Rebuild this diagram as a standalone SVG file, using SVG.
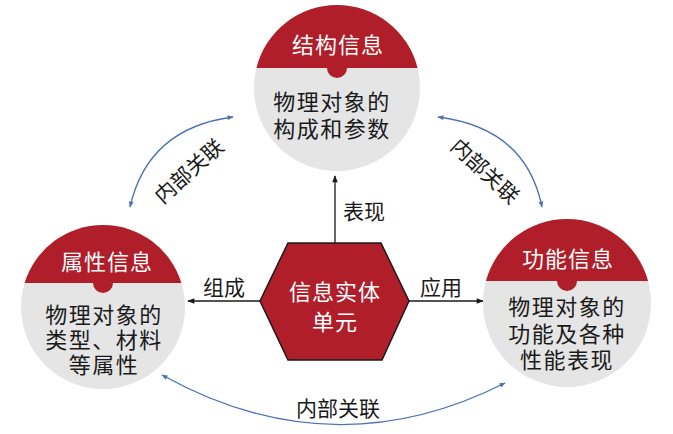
<svg xmlns="http://www.w3.org/2000/svg" width="673" height="434" viewBox="0 0 673 434">
<style>
.bg{fill:#E5E5E5}
.red{fill:#B01E2A}
.t{font-family:"Noto Sans CJK SC","Noto Sans",sans-serif;font-size:22px;text-anchor:middle;dominant-baseline:central}
.w{fill:#FFFFFF;letter-spacing:1px}
.k{fill:#1A1A1A;letter-spacing:1.5px}
.lbl{font-family:"Noto Sans CJK SC","Noto Sans",sans-serif;font-size:21px;fill:#1A1A1A;dominant-baseline:central}
.ar{stroke:#1A1A1A;stroke-width:1.3;fill:none}
.bl{stroke:#4A72B4;stroke-width:1.3;fill:none}
</style>
<defs>
<marker id="ak" viewBox="0 0 10 10" refX="9" refY="5" markerWidth="9" markerHeight="7" markerUnits="userSpaceOnUse" orient="auto">
<path d="M0,1 L10,5 L0,9 Z" fill="#1A1A1A"/>
</marker>
<marker id="ab" viewBox="0 0 10 10" refX="9" refY="5" markerWidth="9" markerHeight="6" markerUnits="userSpaceOnUse" orient="auto-start-reverse">
<path d="M0,1 L10,5 L0,9 Z" fill="#4A72B4"/>
</marker>
</defs>

<g id="connectors">
<line class="ar" x1="335" y1="243" x2="335" y2="176" marker-end="url(#ak)"/>
<line class="ar" x1="260" y1="301" x2="188" y2="301" marker-end="url(#ak)"/>
<line class="ar" x1="409" y1="301" x2="483" y2="301" marker-end="url(#ak)"/>
<path class="bl" d="M130,207 Q148,128 233,117" marker-start="url(#ab)" marker-end="url(#ab)"/>
<path class="bl" d="M438,117 Q526,128 542,207" marker-start="url(#ab)" marker-end="url(#ab)"/>
<path class="bl" d="M162,375 Q333,470 505,383" marker-start="url(#ab)" marker-end="url(#ab)"/>
<text class="lbl" x="343" y="210">表现</text>
<text class="lbl" x="203" y="286">组成</text>
<text class="lbl" x="420" y="286">应用</text>
<text class="lbl" x="338" y="407" text-anchor="middle">内部关联</text>
<text class="lbl" x="188" y="170" text-anchor="middle" transform="rotate(-42 188 170)">内部关联</text>
<text class="lbl" x="486" y="170" text-anchor="middle" transform="rotate(43 486 170)">内部关联</text>
</g>

<g id="node-structure">
<circle class="bg" cx="337" cy="88" r="83"/>
<path class="red" d="M256.45,68 A83,83 0 0 1 417.55,68 Z"/>
<circle class="red" cx="337" cy="68" r="10"/>
<text class="t w" x="338" y="43">结构信息</text>
<text class="t k" x="332" y="100">物理对象的</text>
<text class="t k" x="332" y="127">构成和参数</text>
</g>

<g id="node-attribute">
<circle class="bg" cx="103" cy="307" r="82"/>
<path class="red" d="M24.6,283 A82,82 0 0 1 181.4,283 Z"/>
<circle class="red" cx="103" cy="283" r="10"/>
<text class="t w" x="107" y="260">属性信息</text>
<text class="t k" x="104" y="313">物理对象的</text>
<text class="t k" x="104" y="338">类型、材料</text>
<text class="t k" x="104" y="363">等属性</text>
</g>

<g id="node-function">
<circle class="bg" cx="567" cy="303" r="84"/>
<path class="red" d="M485.93,281 A84,84 0 0 1 648.07,281 Z"/>
<circle class="red" cx="567" cy="281" r="10"/>
<text class="t w" x="568" y="257">功能信息</text>
<text class="t k" x="567" y="305">物理对象的</text>
<text class="t k" x="567" y="332">功能及各种</text>
<text class="t k" x="567" y="358">性能表现</text>
</g>

<g id="node-entity">
<polygon points="288,243 381,243 409,301 382,360 288,360 260,301" fill="#B01E2A" stroke="#1A1A1A" stroke-width="1.5"/>
<text class="t w" x="335" y="290">信息实体</text>
<text class="t w" x="335" y="320">单元</text>
</g>
</svg>
